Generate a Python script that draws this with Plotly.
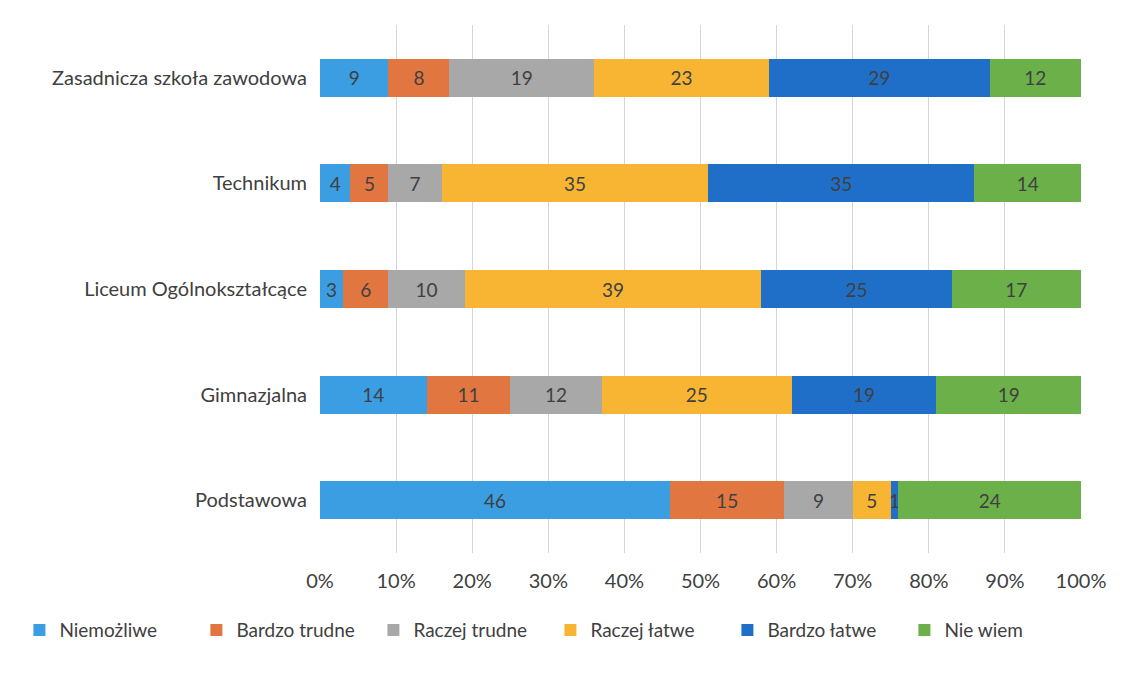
import plotly.graph_objects as go

categories = ["Zasadnicza szkoła zawodowa", "Technikum", "Liceum Ogólnokształcące", "Gimnazjalna", "Podstawowa"]
series_names = ["Niemożliwe", "Bardzo trudne", "Raczej trudne", "Raczej łatwe", "Bardzo łatwe", "Nie wiem"]
niemozliwe = [9, 4, 3, 14, 46]
bardzo_trudne = [8, 5, 6, 11, 15]
raczej_trudne = [19, 7, 10, 12, 9]
raczej_latwe = [23, 35, 39, 25, 5]
bardzo_latwe = [29, 35, 25, 19, 1]
nie_wiem = [12, 14, 17, 19, 24]
tick_vals = [0, 10, 20, 30, 40, 50, 60, 70, 80, 90, 100]
tick_labels = ["0%", "10%", "20%", "30%", "40%", "50%", "60%", "70%", "80%", "90%", "100%"]

values = [niemozliwe, bardzo_trudne, raczej_trudne, raczej_latwe, bardzo_latwe, nie_wiem]
colors = ["#3b9ee3", "#e27640", "#a8a8a8", "#f7b533", "#1f6fc8", "#6cb04a"]
FONT = "Lato, Open Sans, sans-serif"

fig = go.Figure()
for name, vals, col in zip(series_names, values, colors):
    totals = [sum(v[i] for v in values) for i in range(len(categories))]
    pct = [vals[i] / totals[i] * 100 for i in range(len(categories))]
    fig.add_trace(go.Bar(
        y=categories, x=pct, name=name, orientation="h",
        marker=dict(color=col, line=dict(width=0)),
        text=[str(v) for v in vals], textposition="inside",
        insidetextanchor="middle", textangle=0,
        textfont=dict(color="#404040", size=19, family=FONT),
        constraintext="none",
    ))

fig.update_layout(
    barmode="stack",
    bargap=0.64,
    width=1123, height=680,
    margin=dict(l=308, r=50, t=17, b=135),
    paper_bgcolor="white", plot_bgcolor="white",
    font=dict(family=FONT, color="#404040", size=20),
    uniformtext=dict(mode=False),
    xaxis=dict(range=[0, 100], tickvals=tick_vals, ticktext=tick_labels,
               showgrid=True, gridcolor="#d6d6d6", gridwidth=1, zeroline=False,
               showline=False, ticks="", tickfont=dict(size=20), ticklabelstandoff=14),
    yaxis=dict(autorange="reversed", showgrid=False, showline=False, ticks="",
               tickfont=dict(size=20), ticklabelstandoff=12),
    legend=dict(orientation="h", x=-0.395, xanchor="left", y=-0.11, yanchor="top",
                font=dict(size=19), traceorder="normal", itemwidth=30,
                entrywidth=132, entrywidthmode="pixels"),
)

fig.write_html("out.html")
